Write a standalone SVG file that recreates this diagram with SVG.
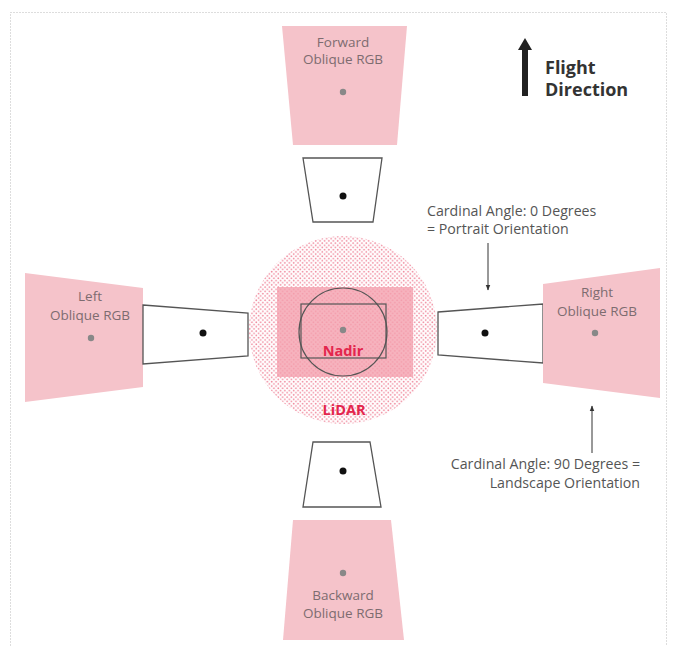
<svg xmlns="http://www.w3.org/2000/svg" width="675" height="646" viewBox="0 0 675 646">
<defs>
<style>
.pink{fill:#f5c3ca;}
.wt{fill:#fff;stroke:#555;stroke-width:1.3;}
.lbl{font-family:"Open Sans","DejaVu Sans",sans-serif;font-size:13.5px;fill:#7d6c70;text-anchor:middle;}
.ann{font-family:"Open Sans","DejaVu Sans",sans-serif;font-size:14.2px;fill:#555;}
.gd{fill:#888;}
.bd{fill:#111;}
.red{font-family:"Open Sans","DejaVu Sans",sans-serif;font-size:14.5px;font-weight:bold;fill:#e3264d;text-anchor:middle;}
.fl{font-family:"Open Sans","DejaVu Sans",sans-serif;font-size:18px;font-weight:bold;fill:#333;}
</style>
<pattern id="dots" width="4.4" height="4.4" patternUnits="userSpaceOnUse">
<circle cx="1.1" cy="1.1" r="0.9" fill="#f08da0"/>
<circle cx="3.3" cy="3.3" r="0.9" fill="#f08da0"/>
</pattern>
<marker id="ah" viewBox="0 0 10 10" refX="9" refY="5" markerWidth="6" markerHeight="6" orient="auto">
<path d="M0,1 L10,5 L0,9 z" fill="#333"/>
</marker>
</defs>
<rect x="10.5" y="12.5" width="656" height="640" fill="none" stroke="#bbb" stroke-dasharray="1 2"/>

<g id="lidar">
<circle cx="343" cy="330" r="94" fill="url(#dots)"/>
<rect x="277" y="287" width="136" height="90" fill="#f4a0ae" opacity="0.8"/>
<rect x="301" y="304" width="85" height="54" fill="none" stroke="#555" stroke-width="1.2"/>
<circle cx="343" cy="332" r="44" fill="none" stroke="#555" stroke-width="1.2"/>
<circle cx="343" cy="330" r="3.2" class="gd"/>
<text x="343" y="356" class="red">Nadir</text>
<text x="344" y="415" class="red">LiDAR</text>
</g>

<g id="forward">
<polygon class="pink" points="282,26 407,26 397,145 293,145"/>
<text x="343" y="47" class="lbl">Forward</text>
<text x="343" y="64" class="lbl">Oblique RGB</text>
<circle cx="343" cy="92" r="3.2" class="gd"/>
</g>
<g id="forward-frame">
<polygon class="wt" points="303,158 382,158 373,222 313,222"/>
<circle cx="343" cy="196" r="3.5" class="bd"/>
</g>

<g id="backward-frame">
<polygon class="wt" points="313,442 370,442 381,507 303,507"/>
<circle cx="343" cy="471" r="3.5" class="bd"/>
</g>
<g id="backward">
<polygon class="pink" points="293,520 391,520 404,640 283,640"/>
<circle cx="343" cy="573" r="3.2" class="gd"/>
<text x="343" y="600" class="lbl">Backward</text>
<text x="343" y="618" class="lbl">Oblique RGB</text>
</g>

<g id="left">
<polygon class="pink" points="25,273 143,288 143,387 25,402"/>
<text x="90" y="301" class="lbl">Left</text>
<text x="90" y="320" class="lbl">Oblique RGB</text>
<circle cx="91" cy="338" r="3.2" class="gd"/>
</g>
<g id="left-frame">
<polygon class="wt" points="143,305 248,313 248,356 143,364"/>
<circle cx="203" cy="333" r="3.5" class="bd"/>
</g>

<g id="right-frame">
<polygon class="wt" points="438,312 543,304 543,363 438,355"/>
<circle cx="485" cy="333" r="3.5" class="bd"/>
</g>
<g id="right">
<polygon class="pink" points="543,284 660,268 660,398 543,383"/>
<text x="597" y="297" class="lbl">Right</text>
<text x="597" y="316" class="lbl">Oblique RGB</text>
<circle cx="595" cy="333" r="3.2" class="gd"/>
</g>

<g id="ann-portrait">
<text x="427" y="216" class="ann">Cardinal Angle: 0 Degrees</text>
<text x="427" y="234" class="ann">= Portrait Orientation</text>
</g>
<g id="ann-landscape">
<text x="640" y="469" class="ann" text-anchor="end">Cardinal Angle: 90 Degrees =</text>
<text x="640" y="488" class="ann" text-anchor="end">Landscape Orientation</text>
</g>

<g id="flight">
<rect x="522" y="48" width="6" height="48" fill="#222"/>
<polygon points="525,38 532,50 518,50" fill="#222"/>
<text x="545" y="74" class="fl">Flight</text>
<text x="545" y="96" class="fl">Direction</text>
</g>

<g id="connectors" stroke="#333" stroke-width="1" fill="none">
<line x1="488" y1="243" x2="488" y2="290" marker-end="url(#ah)"/>
<line x1="592" y1="453" x2="592" y2="406" marker-end="url(#ah)"/>
</g>
</svg>
